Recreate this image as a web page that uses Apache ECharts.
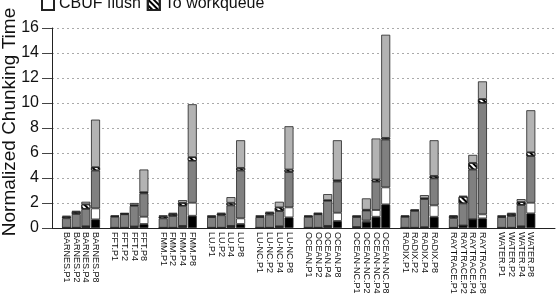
<!DOCTYPE html>
<html>
<head>
<meta charset="utf-8">
<script src="https://cdn.jsdelivr.net/npm/echarts@6/dist/echarts.min.js"></script>
<style>
  html, body { margin: 0; padding: 0; background: #fff; }
  #main { width: 557px; height: 302px; }
</style>
</head>
<body>
<div id="main"></div>
<script>
var benchmarks = ["BARNES", "FFT", "FMM", "LU", "LU-NC", "OCEAN", "OCEAN-NC", "RADIX", "RAYTRACE", "WATER"];
var procs = ["P1", "P2", "P4", "P8"];
var yTicks = [0, 2, 4, 6, 8, 10, 12, 14, 16];

// stacked segments, bottom to top, 4 values per benchmark (P1, P2, P4, P8)
var blackPart = [
  0.02, 0.02, 0.12, 0.69,   0.02, 0.02, 0.10, 0.32,   0.02, 0.02, 0.15, 0.98,
  0.02, 0.02, 0.15, 0.32,   0.02, 0.02, 0.12, 0.85,   0.02, 0.02, 0.15, 0.56,
  0.08, 0.50, 0.90, 1.89,   0.02, 0.02, 0.05, 0.90,   0.02, 0.20, 0.70, 0.77,
  0.02, 0.02, 0.12, 1.17
];
var cbufFlush = [
  0, 0, 0.02, 0.88,   0, 0, 0.02, 0.58,   0, 0, 0.02, 1.04,
  0, 0, 0.02, 0.45,   0, 0, 0.02, 0.80,   0, 0, 0.02, 0.66,
  0, 0.10, 0.54, 1.36,   0, 0, 0.02, 0.91,   0, 0, 0, 0.32,
  0, 0, 0.02, 0.85
];
var darkPart = [
  0.76, 1.10, 1.38, 3.03,   0.87, 1.08, 1.65, 1.87,   0.75, 0.94, 1.60, 3.35,
  0.85, 1.00, 1.64, 3.83,   0.85, 1.06, 1.21, 2.82,   0.87, 1.08, 2.00, 2.50,
  0.80, 0.80, 2.26, 3.83,   0.87, 1.35, 2.25, 2.16,   0.78, 1.77, 3.98, 8.91,
  0.85, 0.94, 1.70, 3.73
];
var toWorkqueue = [
  0.12, 0.16, 0.37, 0.27,   0.06, 0.05, 0.06, 0.10,   0.16, 0.16, 0.24, 0.30,
  0.06, 0.12, 0.21, 0.21,   0.06, 0.14, 0.30, 0.21,   0.05, 0.05, 0.06, 0.10,
  0.05, 0.06, 0.19, 0.13,   0.05, 0.05, 0.06, 0.20,   0.15, 0.53, 0.53, 0.32,
  0.06, 0.16, 0.24, 0.31
];
var lightPart = [
  0.08, 0.10, 0.21, 3.80,   0.06, 0.05, 0.17, 1.81,   0.08, 0.10, 0.22, 4.23,
  0.08, 0.08, 0.45, 2.21,   0.08, 0.08, 0.45, 3.46,   0.07, 0.07, 0.48, 3.20,
  0.08, 0.91, 3.27, 8.25,   0.07, 0.07, 0.25, 2.85,   0.06, 0.08, 0.64, 1.41,
  0.08, 0.10, 0.23, 3.36
];

// category slots: one empty slot in front, one between groups, two at the end
var slots = [""];
var slotIndex = [];
benchmarks.forEach(function (b, g) {
  procs.forEach(function (p) {
    slotIndex.push(slots.length);
    slots.push(b + "." + p);
  });
  if (g < benchmarks.length - 1) slots.push("");
});
slots.push("", "");

function toSlots(values) {
  var out = slots.map(function () { return "-"; });
  values.forEach(function (v, i) { out[slotIndex[i]] = v; });
  return out;
}

var border = { borderColor: "#222", borderWidth: 0.8 };

function seg(name, values, style) {
  return {
    name: name,
    type: "bar",
    stack: "total",
    barWidth: 9,
    data: toSlots(values),
    itemStyle: Object.assign({}, border, style),
    emphasis: { disabled: true }
  };
}

var myChart = echarts.init(document.getElementById("main"), null, { renderer: "canvas" });
myChart.setOption({
  animation: false,
  textStyle: { fontFamily: "Liberation Sans, Arial, sans-serif" },
  legend: {
    data: ["CBUF flush", "To workqueue"],
    icon: "rect",
    left: 36,
    top: -9,
    itemWidth: 12,
    itemHeight: 12,
    itemGap: 6,
    textStyle: { fontSize: 16, color: "#111" }
  },
  grid: { left: 52, right: 2, top: 28, bottom: 74, outerBoundsMode: "none", containLabel: false },
  xAxis: {
    type: "category",
    data: slots,
    axisLine: { lineStyle: { color: "#222", width: 1 } },
    axisTick: { show: false },
    axisLabel: { interval: 0, rotate: -90, fontSize: 9, color: "#111", margin: 4 }
  },
  yAxis: {
    type: "value",
    min: yTicks[0],
    max: yTicks[yTicks.length - 1],
    interval: 2,
    name: "Normalized Chunking Time",
    nameLocation: "middle",
    nameGap: 33,
    nameMoveOverlap: false,
    nameTextStyle: { fontSize: 19, color: "#111", padding: [0, 0, 0, 12] },
    axisLine: { show: true, lineStyle: { color: "#222", width: 1 } },
    axisTick: { show: true, length: 10, lineStyle: { color: "#444" } },
    axisLabel: { fontSize: 16, color: "#111", margin: 13 },
    splitLine: { lineStyle: { color: "#aaa", type: [2, 3], width: 1 } }
  },
  series: [
    seg("Black part", blackPart, { color: "#000" }),
    seg("CBUF flush", cbufFlush, { color: "#fff" }),
    seg("Dark part", darkPart, { color: "#808080" }),
    seg("To workqueue", toWorkqueue, {
      color: "#fff",
      decal: { symbol: "rect", color: "#000", dashArrayX: [1, 0], dashArrayY: [2, 2], rotation: Math.PI / 4 }
    }),
    seg("Light part", lightPart, { color: "#b3b3b3" })
  ]
});
</script>
</body>
</html>
